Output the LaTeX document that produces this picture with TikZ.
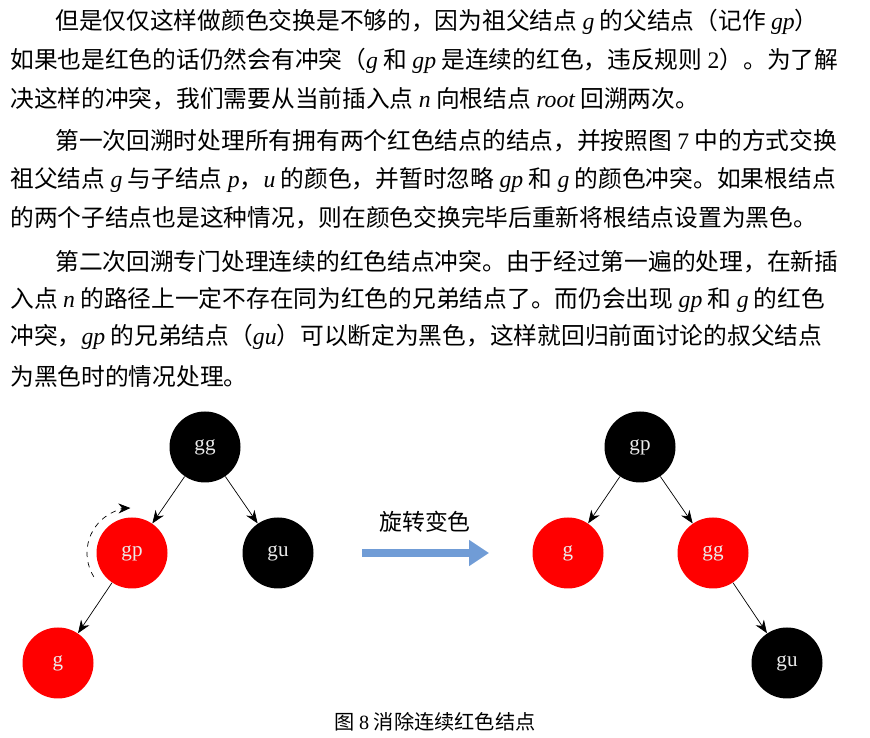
\documentclass[tikz,border=0pt]{standalone}
\usepackage{fontspec}
\usetikzlibrary{arrows.meta}
\setmainfont{Liberation Serif}
\newfontfamily\cjk{Noto Sans CJK SC}
\newcommand\mv[1]{{\rmfamily\itshape #1}}
\newcommand\up[1]{{\rmfamily #1}}
\begin{document}
\begin{tikzpicture}[
  txt/.style={anchor=west,inner sep=0pt,font=\cjk\fontsize{13.5}{15}\selectfont},
  rb/.style={circle,minimum size=1.42cm,inner sep=0pt,fill=#1,text=white!85!gray,font=\fontsize{12}{14}\selectfont},
  edge/.style={-{Stealth[length=2.6mm,width=2mm]},thin}]
\useasboundingbox (0,0) rectangle (17.4,14.76);
\node[txt] (l1) at (1.10,14.32) {但是仅仅这样做颜色交换是不够的，因为祖父结点 \mv{g} 的父结点（记作 \mv{gp}）};
\node[txt] (l2) at (0.20,13.54) {如果也是红色的话仍然会有冲突（\mv{g} 和 \mv{gp} 是连续的红色，违反规则 \up{2}）。为了解};
\node[txt] (l3) at (0.20,12.78) {决这样的冲突，我们需要从当前插入点 \mv{n} 向根结点 \mv{root} 回溯两次。};
\node[txt] (l4) at (1.10,11.94) {第一次回溯时处理所有拥有两个红色结点的结点，并按照图 \up{7} 中的方式交换};
\node[txt] (l5) at (0.20,11.16) {祖父结点 \mv{g} 与子结点 \mv{p}，\mv{u} 的颜色，并暂时忽略 \mv{gp} 和 \mv{g} 的颜色冲突。如果根结点};
\node[txt] (l6) at (0.20,10.40) {的两个子结点也是这种情况，则在颜色交换完毕后重新将根结点设置为黑色。};
\node[txt] (l7) at (1.10,9.52) {第二次回溯专门处理连续的红色结点冲突。由于经过第一遍的处理，在新插};
\node[txt] (l8) at (0.20,8.76) {入点 \mv{n} 的路径上一定不存在同为红色的兄弟结点了。而仍会出现 \mv{gp} 和 \mv{g} 的红色};
\node[txt] (l9) at (0.20,8.02) {冲突，\mv{gp} 的兄弟结点（\mv{gu}）可以断定为黑色，这样就回归前面讨论的叔父结点};
\node[txt] (l10) at (0.20,7.24) {为黑色时的情况处理。};
% left tree
\node[rb=black] (gg) at (4.10,5.82) {gg};
\node[rb=red] (gpL) at (2.64,3.70) {gp};
\node[rb=black] (guL) at (5.56,3.70) {gu};
\node[rb=red] (gL) at (1.16,1.50) {g};
\draw[edge] (gg) -- (gpL);
\draw[edge] (gg) -- (guL);
\draw[edge] (gpL) -- (gL);
\draw[dashed,thin,-{Stealth[length=2.4mm,width=2mm]}] ([shift={(212:0.9)}]gpL.center) arc[start angle=212,end angle=92,radius=0.9];
% right tree
\node[rb=black] (gpR) at (12.80,5.82) {gp};
\node[rb=red] (gR) at (11.36,3.70) {g};
\node[rb=red] (ggR) at (14.26,3.70) {gg};
\node[rb=black] (guR) at (15.74,1.50) {gu};
\draw[edge] (gpR) -- (gR);
\draw[edge] (gpR) -- (ggR);
\draw[edge] (ggR) -- (guR);
% transform arrow
\coordinate (a1) at (7.24,3.70);
\coordinate (a2) at (9.78,3.70);
\draw[line width=0.17cm,color={rgb,255:red,112;green,156;blue,214},-{Triangle[length=0.4cm,width=0.5cm]}] (a1) -- (a2);
\node[font=\cjk\fontsize{13}{15}\selectfont] (lab) at (8.5,4.32) {旋转变色};
\node[font=\cjk\fontsize{11.5}{13}\selectfont] (cap) at (8.7,0.32) {图 \up{8} 消除连续红色结点};
\end{tikzpicture}
\end{document}
